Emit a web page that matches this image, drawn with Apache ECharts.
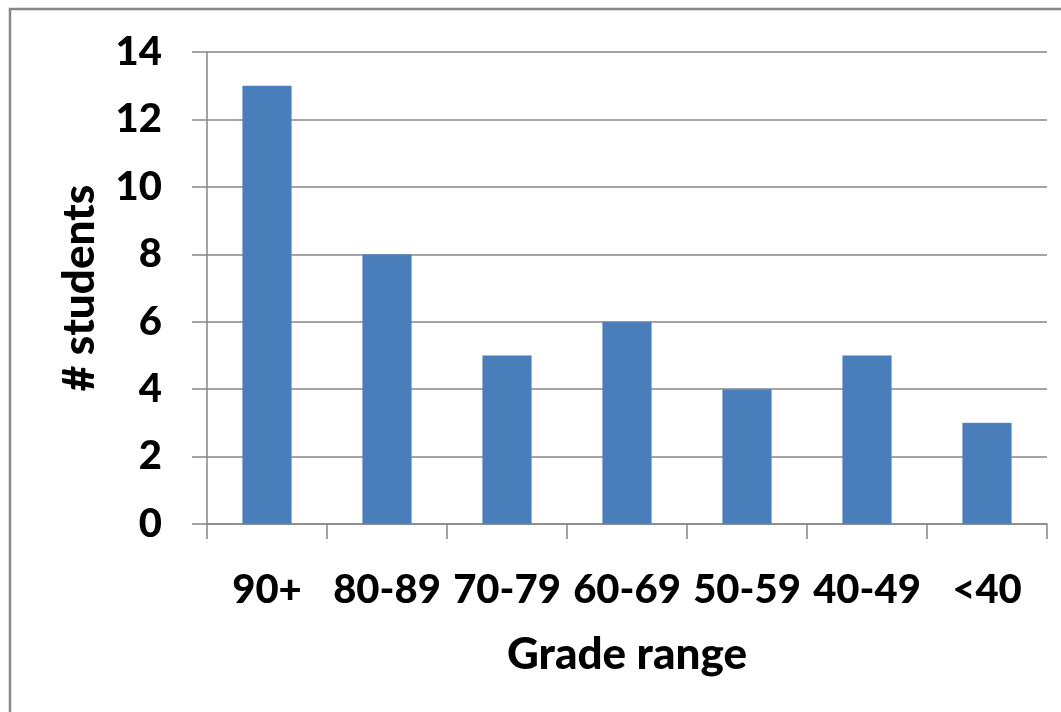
<!DOCTYPE html>
<html>
<head>
<meta charset="utf-8">
<script src="https://cdn.jsdelivr.net/npm/echarts@6/dist/echarts.min.js"></script>
<style>
html,body{margin:0;padding:0;background:#fff;}
#chart{width:1061px;height:712px;}
</style>
</head>
<body>
<div id="chart"></div>
<script>
const categories = ['90+', '80-89', '70-79', '60-69', '50-59', '40-49', '<40'];
const students = [13, 8, 5, 6, 4, 5, 3];
const yTicks = { min: 0, max: 14, interval: 2 };

const chart = echarts.init(document.getElementById('chart'));
const FONT = 'Lato';
const W = 900;
chart.setOption({
  animation: false,
  backgroundColor: '#ffffff',
  graphic: [{
    type: 'rect',
    shape: { x: 10, y: 9, width: 1070, height: 720 },
    style: { fill: 'none', stroke: '#878787', lineWidth: 2.5 },
    silent: true
  }],
  grid: { left: 207, right: 14, top: 52, bottom: 188, containLabel: false },
  xAxis: {
    type: 'category',
    data: categories,
    name: 'Grade range',
    nameLocation: 'middle',
    nameGap: 109,
    nameTextStyle: { fontFamily: FONT, fontWeight: W, fontSize: 44, color: '#000' },
    axisLine: { show: true, lineStyle: { color: '#868686', width: 1.5 } },
    axisTick: { show: true, alignWithLabel: false, length: 15, lineStyle: { color: '#868686', width: 1.5 } },
    axisLabel: { margin: 46, fontFamily: FONT, fontWeight: W, fontSize: 40, color: '#000', interval: 0 },
    splitLine: { show: false }
  },
  yAxis: {
    type: 'value',
    min: yTicks.min, max: yTicks.max, interval: yTicks.interval,
    name: '# students',
    nameLocation: 'middle',
    nameGap: 105,
    nameRotate: 90,
    nameTextStyle: { fontFamily: FONT, fontWeight: W, fontSize: 44, color: '#000' },
    axisLine: { show: true, lineStyle: { color: '#868686', width: 1.5 } },
    axisTick: { show: true, inside: false, length: 15, lineStyle: { color: '#868686', width: 1.5 } },
    axisLabel: { margin: 45, fontFamily: FONT, fontWeight: W, fontSize: 40, color: '#000' },
    splitLine: { show: true, lineStyle: { color: '#868686', width: 1.5 } }
  },
  series: [{
    type: 'bar',
    data: students,
    barWidth: '41%',
    itemStyle: { color: '#4A7EBB', borderColor: '#5B8ACB', borderWidth: 0.5 }
  }]
});
</script>
</body>
</html>
